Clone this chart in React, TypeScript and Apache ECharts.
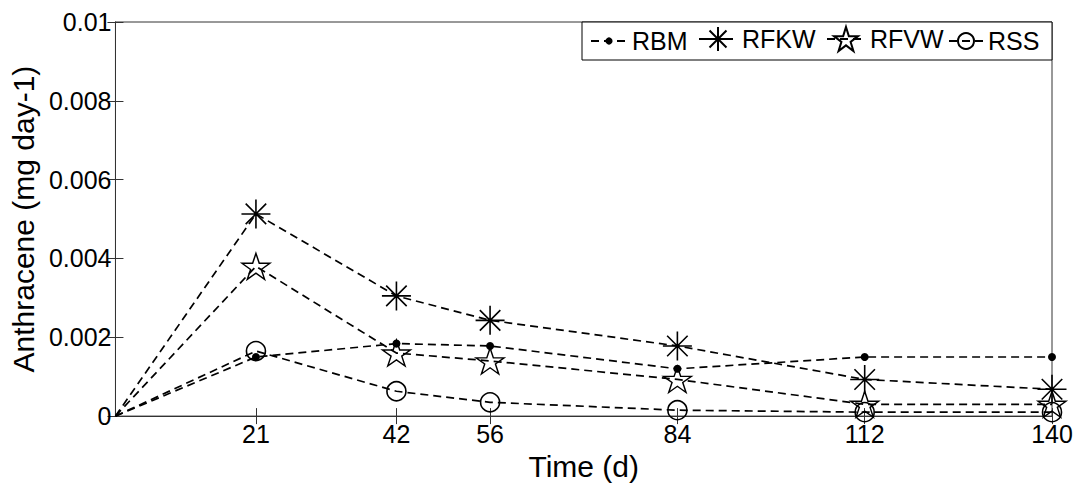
import React, { useEffect, useRef } from "react";
import * as echarts from "echarts";

const days = [0, 21, 42, 56, 84, 112, 140];
const xTicks = [21, 42, 56, 84, 112, 140];
const rbm = [0, 0.0015, 0.00184, 0.00178, 0.0012, 0.0015, 0.0015];
const rfkw = [0, 0.00513, 0.00305, 0.00243, 0.00178, 0.00093, 0.00068];
const rfvw = [0, 0.0038, 0.0016, 0.0014, 0.00093, 0.0003, 0.0003];
const rss = [0, 0.00165, 0.00063, 0.00035, 0.00015, 0.0001, 0.0001];
const seriesNames = ["RBM", "RFKW", "RFVW", "RSS"];

const ASTERISK =
  "path://M0,-10L0,10M-10,0L10,0M-7.07,-7.07L7.07,7.07M-7.07,7.07L7.07,-7.07";
const STAR =
  "path://M0,-10L2.245,-3.09L9.511,-3.09L3.633,1.18L5.878,8.09L0,3.82L-5.878,8.09L-3.633,1.18L-9.511,-3.09L-2.245,-3.09Z";

const FONT = "Liberation Sans, Arial, Helvetica, sans-serif";

export default function App() {
  const ref = useRef<HTMLDivElement>(null);
  useEffect(() => {
    if (!ref.current) return;
    const chart = echarts.init(ref.current, undefined, { renderer: "svg" });
    const pair = (arr: number[]) =>
      days.map((d, i) =>
        d === 0 ? { value: [d, arr[i]], symbol: "none" } : [d, arr[i]]
      );
    const lineStyle = { color: "#000", width: 1.7, type: [8, 5] as any };
    const mk = (
      name: string,
      arr: number[],
      symbol: string,
      size: any,
      fill: string,
      bw: number
    ) => ({
      name,
      type: "line",
      data: pair(arr),
      symbol,
      symbolSize: size,
      showAllSymbol: true,
      lineStyle,
      itemStyle: { color: fill, borderColor: "#000", borderWidth: bw },
      emphasis: { disabled: true },
      z: 3,
    });
    const axisLine = { show: true, lineStyle: { color: "#333", width: 1 } };
    const tickStyle = { color: "#333" };
    const legendCenterY = 41;
    const legendItem = (name: string, left: number, w: number, h: number) => ({
      show: true,
      data: [name],
      left,
      top: legendCenterY - Math.max(h, 25) / 2,
      padding: 0,
      itemWidth: w,
      itemHeight: h,
      selectedMode: false,
      z: 20,
      textStyle: { fontFamily: FONT, fontSize: 25, color: "#000" },
    });
    chart.setOption({
      animation: false,
      grid: {
        left: 114,
        right: 27,
        top: 22,
        bottom: 63,
        show: true,
        borderColor: "#333",
        borderWidth: 1,
        containLabel: false,
      },
      graphic: [
        {
          type: "rect",
          z: 10,
          shape: { x: 582, y: 22, width: 470, height: 38 },
          style: { fill: "#fff", stroke: "#000", lineWidth: 1 },
        },
      ],
      legend: [
        legendItem(seriesNames[0], 590, 36, 9),
        legendItem(seriesNames[1], 698, 38, 30),
        legendItem(seriesNames[2], 826, 38, 30),
        legendItem(seriesNames[3], 948, 34, 20),
      ],
      xAxis: [
        {
          type: "value",
          min: 0,
          max: 140,
          position: "bottom",
          name: "Time (d)",
          nameLocation: "middle",
          nameGap: 30,
          nameTextStyle: { fontFamily: FONT, fontSize: 30, color: "#000" },
          axisLine,
          axisTick: { show: true, inside: true, length: 8, customValues: xTicks, lineStyle: tickStyle },
          axisLabel: { customValues: xTicks, fontFamily: FONT, fontSize: 25, color: "#000", margin: 5 },
          splitLine: { show: false },
        },
        {
          type: "value",
          min: 0,
          max: 140,
          position: "top",
          axisLine,
          axisTick: { show: true, inside: true, length: 8, customValues: xTicks, lineStyle: tickStyle },
          axisLabel: { show: false },
          splitLine: { show: false },
        },
      ],
      yAxis: [
        {
          type: "value",
          min: 0,
          max: 0.01,
          interval: 0.002,
          position: "left",
          name: "Anthracene (mg day-1)",
          nameLocation: "middle",
          nameGap: 72,
          nameTextStyle: { fontFamily: FONT, fontSize: 30, color: "#000" },
          axisLine,
          axisTick: { show: true, inside: true, length: 8, lineStyle: tickStyle },
          axisLabel: {
            fontFamily: FONT,
            fontSize: 25,
            color: "#000",
            margin: 4,
            formatter: (v: number) => (v === 0 ? "0" : String(parseFloat(v.toFixed(3)))),
          },
          splitLine: { show: false },
        },
        {
          type: "value",
          min: 0,
          max: 0.01,
          interval: 0.002,
          position: "right",
          axisLine,
          axisTick: { show: true, inside: true, length: 8, lineStyle: tickStyle },
          axisLabel: { show: false },
          splitLine: { show: false },
        },
      ],
      series: [
        mk(seriesNames[0], rbm, "circle", 8, "#000", 0),
        mk(seriesNames[1], rfkw, ASTERISK, 29, "rgba(0,0,0,0)", 1.6),
        mk(seriesNames[2], rfvw, STAR, [28, 26], "rgba(0,0,0,0)", 1.4),
        mk(seriesNames[3], rss, "circle", 19, "rgba(0,0,0,0)", 1.6),
      ],
    });
    return () => chart.dispose();
  }, []);
  return <div ref={ref} style={{ width: 1079, height: 486, position: "absolute", left: 0, top: 0 }} />;
}
